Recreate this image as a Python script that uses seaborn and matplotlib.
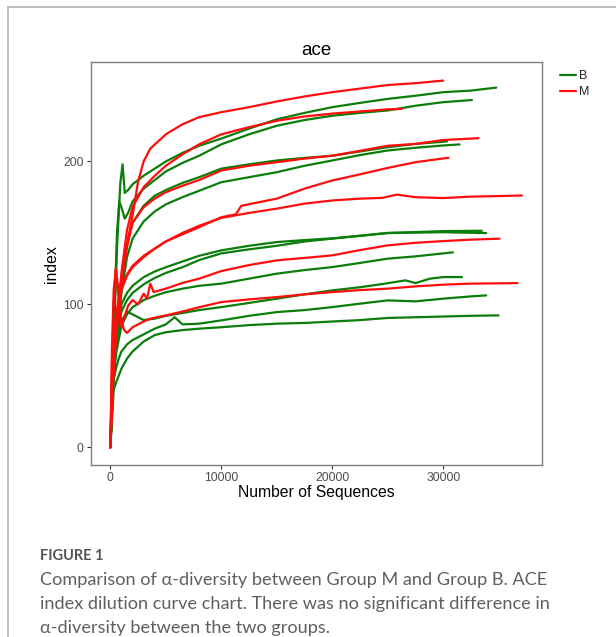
import numpy as np
import pandas as pd
import matplotlib
matplotlib.use("Agg")
import matplotlib.pyplot as plt
import seaborn as sns
from matplotlib.lines import Line2D

# ---- rarefaction curves (depth -> ACE index) ----
B1_depth = [0, 300, 600, 900, 1100, 1300, 1600, 2000, 3000, 4000, 5000, 6500, 8000, 10000, 12500, 15000, 17500, 20000, 22500, 25000, 27500, 30000, 32500, 34780]
B1_ace = [0, 70, 140, 185, 198, 178, 180, 184, 190, 195, 200, 206, 211, 216, 223, 229.5, 234, 238, 241, 243.8, 246, 248.5, 249.6, 251.7]

B2_depth = [0, 300, 600, 800, 1000, 1300, 1600, 2000, 3000, 4000, 5000, 6500, 8000, 10000, 12500, 15000, 17500, 20000, 22500, 25000, 27500, 30000, 32580]
B2_ace = [0, 80, 150, 172, 168, 160, 164, 172, 181, 187, 193, 199, 204, 212, 219, 225, 229, 232, 234, 235.7, 239, 241.5, 243]

B3_depth = [0, 250, 500, 1000, 1500, 2000, 3000, 4000, 5000, 6500, 8000, 10000, 12500, 15000, 17500, 20000, 22500, 25000, 27500, 30330]
B3_ace = [0, 50, 80, 118, 142, 157, 169, 176, 180, 185, 189, 195, 198, 200.7, 202.5, 204, 207, 210, 212.3, 214]

B4_depth = [0, 250, 500, 1000, 1500, 2000, 3000, 4000, 5000, 6500, 8000, 10000, 12500, 15000, 17500, 20000, 22500, 25000, 27500, 30000, 31470]
B4_ace = [0, 40, 70, 108, 133, 146, 158, 165, 170, 175, 179.5, 185.5, 189, 192.5, 197, 200.7, 204.5, 207.7, 209.6, 211.2, 211.9]

B5_depth = [0, 250, 500, 1000, 1500, 2000, 3000, 4000, 5000, 6500, 8000, 10000, 12500, 15000, 17500, 20000, 22500, 25000, 27500, 30000, 33480]
B5_ace = [0, 50, 75, 100, 108, 113, 119, 123, 126, 130, 134, 137.8, 141, 143.6, 145, 146.2, 148, 150, 150.6, 151.3, 151.5]

B6_depth = [0, 250, 500, 1000, 1500, 2000, 3000, 4000, 5000, 6500, 8000, 10000, 12500, 15000, 17500, 20000, 22500, 25000, 27500, 30000, 33870]
B6_ace = [0, 45, 70, 95, 103, 108, 114, 118.5, 122, 126, 131, 135.7, 138.5, 141, 144, 146, 148, 149.9, 150.2, 150.5, 149.9]

B7_depth = [0, 250, 500, 1000, 1500, 2000, 3000, 4000, 5000, 6500, 8000, 10000, 12500, 15000, 17500, 20000, 22500, 25000, 27500, 30870]
B7_ace = [0, 45, 65, 85, 93, 98, 103, 106, 108.5, 111, 113, 114.5, 118, 121.5, 124, 126.1, 129, 132, 133.6, 136.4]

B8_depth = [0, 250, 500, 750, 1000, 1500, 2000, 3000, 4000, 5000, 6500, 8000, 10000, 12500, 15000, 17500, 20000, 22500, 24300, 26600, 27500, 28800, 30000, 31680]
B8_ace = [0, 50, 68, 80, 88, 95, 93, 89, 90, 92, 94, 96, 98.1, 101, 104, 107, 109.8, 112, 114, 116.8, 114.9, 118, 119.1, 119.1]

B9_depth = [0, 250, 500, 750, 1000, 1500, 2000, 3000, 4000, 5000, 5800, 6500, 8000, 10000, 12500, 15000, 17500, 20000, 22500, 25000, 27500, 30000, 32500, 33870]
B9_ace = [0, 45, 55, 62, 67, 72, 75, 79, 83, 86, 91, 86, 86.5, 88.8, 92, 94.6, 96, 98.1, 100.5, 102.8, 102.1, 104, 105.6, 106.3]

B10_depth = [0, 300, 500, 750, 1000, 1500, 2000, 3000, 4000, 5000, 6500, 8000, 10000, 12500, 15000, 17500, 20000, 22500, 25000, 27500, 30000, 32500, 34980]
B10_ace = [0, 40, 45, 50, 55, 62, 67, 74, 78.5, 80.5, 82, 83, 84, 85.5, 86.5, 87, 88, 89, 90.5, 91, 91.5, 92, 92.3]

M1_depth = [0, 200, 500, 1000, 1500, 2000, 2500, 3000, 3600, 5000, 6500, 8000, 10000, 12500, 15000, 17500, 20000, 22500, 25000, 27500, 30000]
M1_ace = [0, 50, 90, 118, 142, 162, 186, 200, 209, 219, 226, 231, 234.5, 238, 242, 245.5, 248.5, 251, 253.5, 254.8, 256.6]

M2_depth = [0, 200, 500, 1000, 1500, 2000, 3000, 4000, 5000, 6500, 8000, 10000, 12500, 15000, 17500, 20000, 22500, 25000, 26280]
M2_ace = [0, 45, 80, 122, 152, 168, 182, 190, 197, 205, 212, 219, 224, 228.5, 231.5, 233.5, 235, 236.5, 236.8]

M3_depth = [0, 200, 500, 1000, 1500, 2000, 3000, 4000, 5000, 6500, 8000, 10000, 12500, 15000, 17500, 20000, 22500, 25000, 27500, 30000, 33180]
M3_ace = [0, 40, 75, 115, 140, 157, 168, 174, 178.5, 183, 187, 193.7, 197, 199.5, 202, 204, 207.5, 211, 212.3, 215, 216.3]

M4_depth = [0, 200, 500, 1000, 1500, 2000, 3000, 4000, 5000, 6500, 8000, 10000, 11300, 11800, 15000, 17500, 20000, 22500, 25000, 27500, 30480]
M4_ace = [0, 60, 90, 112, 121, 127, 134, 139, 144, 149, 154, 161, 163, 169, 174, 181, 186.7, 191, 195.5, 199.5, 202.6]

M5_depth = [0, 200, 500, 1000, 1500, 2000, 3000, 4000, 5000, 6500, 8000, 10000, 12500, 15000, 17500, 20000, 22500, 24500, 25800, 27500, 30000, 32500, 35000, 37090]
M5_ace = [0, 55, 88, 110, 120, 126, 133, 139, 144, 150, 155, 160.5, 164, 167, 170.5, 172.7, 174, 174.5, 176.8, 175, 174.4, 175.4, 175.8, 176.2]

M6_depth = [0, 150, 300, 500, 800, 1000, 1300, 1600, 2000, 2500, 3000, 3300, 3600, 3900, 5000, 6500, 8000, 10000, 12500, 15000, 17500, 20000, 22500, 25000, 27500, 30000, 32500, 35070]
M6_ace = [0, 70, 110, 125, 100, 84, 92, 99, 103, 100, 107.5, 104, 114.5, 108.6, 111, 115, 118, 123.3, 127.5, 130.8, 132.5, 134.3, 138, 141.3, 143.1, 144.3, 145.3, 146]

M7_depth = [0, 150, 300, 500, 750, 1000, 1250, 1500, 2000, 3000, 3600, 5000, 6500, 8000, 10000, 12500, 15000, 17500, 20000, 22500, 25000, 27500, 30000, 32500, 36700]
M7_ace = [0, 60, 100, 125, 108, 88, 82, 80, 84, 88, 90, 92.3, 95, 98, 101.6, 103.5, 105.1, 107, 108.6, 110, 111, 112.6, 113.8, 114.5, 114.9]

samples = {
    "B1": ("B", B1_depth, B1_ace), "B2": ("B", B2_depth, B2_ace),
    "B3": ("B", B3_depth, B3_ace), "B4": ("B", B4_depth, B4_ace),
    "B5": ("B", B5_depth, B5_ace), "B6": ("B", B6_depth, B6_ace),
    "B7": ("B", B7_depth, B7_ace), "B8": ("B", B8_depth, B8_ace),
    "B9": ("B", B9_depth, B9_ace), "B10": ("B", B10_depth, B10_ace),
    "M1": ("M", M1_depth, M1_ace), "M2": ("M", M2_depth, M2_ace),
    "M3": ("M", M3_depth, M3_ace), "M4": ("M", M4_depth, M4_ace),
    "M5": ("M", M5_depth, M5_ace), "M6": ("M", M6_depth, M6_ace),
    "M7": ("M", M7_depth, M7_ace),
}

rows = []
for name, (grp, dep, ace) in samples.items():
    for d, a in zip(dep, ace):
        rows.append({"sample": name, "group": grp, "depth": d, "ace": a})
df = pd.DataFrame(rows)

sns.set_theme(style="white")
plt.rcParams["font.family"] = ["Liberation Sans", "DejaVu Sans"]

fig = plt.figure(figsize=(6.16, 6.37), dpi=100)
ax = fig.add_axes([90.7 / 616, 1 - 465 / 637, (541.7 - 90.7) / 616, (465 - 62.3) / 637])

sns.lineplot(
    data=df, x="depth", y="ace", hue="group", hue_order=["B", "M"],
    units="sample", estimator=None, sort=False,
    palette={"B": "#0a7d0a", "M": "#ff0d0d"}, linewidth=1.6, ax=ax,
)

ax.set_xlim(-1770, 38870)
ax.set_ylim(-12.4, 269.4)
ax.set_xticks([0, 10000, 20000, 30000])
ax.set_yticks([0, 100, 200])
ax.tick_params(axis="both", direction="out", length=3, width=0.8, color="#333333",
               labelcolor="#4d4d4d", labelsize=8.7, pad=2, left=True, bottom=True)
for sp in ax.spines.values():
    sp.set_color("#7f7f7f")
    sp.set_linewidth(1.0)

ax.set_title("ace", fontsize=13.5, pad=5, color="black")
ax.set_xlabel("Number of Sequences", fontsize=11.3, labelpad=1, color="black")
ax.set_ylabel("index", fontsize=11.3, labelpad=3, color="black")

handles, labels = ax.get_legend_handles_labels()
ax.get_legend().remove()
fig.legend(handles, labels, loc="upper left", bbox_to_anchor=(555 / 616, 1 - 65 / 637),
           frameon=False, fontsize=9, handlelength=1.3, handletextpad=0.2,
           labelspacing=0.35, borderaxespad=0)

# page frame lines around the figure panel
fig.add_artist(Line2D([8 / 616, 1], [1 - 7 / 637, 1 - 7 / 637], color="#b3b3b3", lw=1.2))
fig.add_artist(Line2D([8 / 616, 8 / 616], [0, 1 - 7 / 637], color="#b3b3b3", lw=1.2))

cap_font = ["Lato", "DejaVu Sans"]
fig.text(40 / 616, 1 - 556 / 637, "FIGURE 1", fontsize=10.5, fontweight="bold",
         color="#555555", family=cap_font, va="center")
caption = ["Comparison of \u03b1-diversity between Group M and Group B. ACE",
           "index dilution curve chart. There was no significant difference in",
           "\u03b1-diversity between the two groups."]
for i, line in enumerate(caption):
    fig.text(40 / 616, 1 - (580 + 24.2 * i) / 637, line, fontsize=13.1, color="#5f5f5f",
             family=cap_font, va="center")

fig.savefig("out.png", dpi=100)
